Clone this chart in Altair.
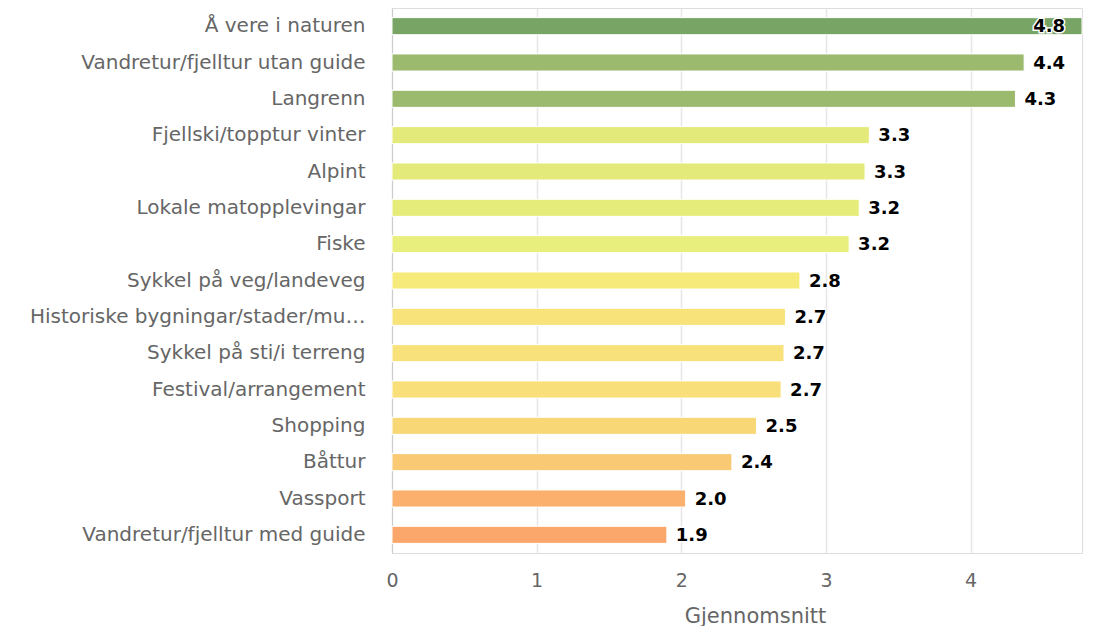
import altair as alt
import pandas as pd

categories = [
    "Å vere i naturen",
    "Vandretur/fjelltur utan guide",
    "Langrenn",
    "Fjellski/topptur vinter",
    "Alpint",
    "Lokale matopplevingar",
    "Fiske",
    "Sykkel på veg/landeveg",
    "Historiske bygningar/stader/museum",
    "Sykkel på sti/i terreng",
    "Festival/arrangement",
    "Shopping",
    "Båttur",
    "Vassport",
    "Vandretur/fjelltur med guide",
]
values = [4.77, 4.37, 4.31, 3.30, 3.27, 3.23, 3.16, 2.82, 2.72, 2.71, 2.69, 2.52, 2.35, 2.03, 1.90]
colors = [
    "#78a566", "#9bba6e", "#9bba6e", "#e3ea79", "#e3ea79", "#e6ec7a", "#e9ef7c",
    "#f6ea7a", "#f8e37a", "#f8e07b", "#f8df7a", "#f8d777", "#f9c974", "#fbb06e", "#fba66b",
]
x_ticks = [0, 1, 2, 3, 4]

df = pd.DataFrame({"kategori": categories, "verdi": values, "farge": colors})

XMAX = max(values)
FONT = "DejaVu Sans"

y_enc = alt.Y(
    "kategori:N",
    sort=categories,
    title=None,
    scale=alt.Scale(paddingInner=0.53, paddingOuter=0.265),
    axis=alt.Axis(
        labelFont=FONT,
        labelFontSize=20,
        labelColor="#666666",
        labelPadding=27,
        labelLimit=345,
        ticks=False,
        domain=True,
        domainColor="#cccccc",
        grid=False,
        minExtent=376,
        maxExtent=376,
    ),
)
x_enc = alt.X(
    "verdi:Q",
    scale=alt.Scale(domain=[0, XMAX], nice=False),
    title="Gjennomsnitt",
    axis=alt.Axis(
        values=x_ticks,
        format="d",
        labelFont=FONT,
        labelFontSize=19,
        labelColor="#666666",
        labelPadding=18,
        labelFlush=False,
        ticks=False,
        domain=False,
        grid=True,
        gridColor="#e6e6e6",
        gridWidth=1.5,
        titleFont=FONT,
        titleFontSize=21,
        titleFontWeight="normal",
        titleColor="#666666",
        titlePadding=15,
        titleX=363,
    ),
)

bars = alt.Chart(df).mark_bar(stroke="white", strokeWidth=1).encode(
    x=x_enc,
    y=y_enc,
    color=alt.Color("farge:N", scale=None),
)

label_base = alt.Chart(df).transform_calculate(
    lx=f"min(datum.verdi, {XMAX} - 0.4)",
    txt="format(datum.verdi, '.1f')",
)

label_outline = label_base.mark_text(
    align="left", baseline="middle", dx=9, dy=1,
    font=FONT, fontSize=18, fontWeight="bold",
    stroke="white", strokeWidth=3, fill="white",
).encode(
    x=alt.X("lx:Q"),
    y=alt.Y("kategori:N", sort=categories),
    text="txt:N",
)
labels = label_base.mark_text(
    align="left", baseline="middle", dx=9, dy=1,
    font=FONT, fontSize=18, fontWeight="bold", color="#000000",
).encode(
    x=alt.X("lx:Q"),
    y=alt.Y("kategori:N", sort=categories),
    text="txt:N",
)

chart = (
    alt.layer(bars, label_outline, labels)
    .properties(width=690, height=545, padding={"left": 8, "top": 0, "right": 0, "bottom": 0})
    .configure_view(stroke=None)
    .configure(background="white")
)

chart.save("out.html", embed_options={"renderer": "svg", "actions": False})
